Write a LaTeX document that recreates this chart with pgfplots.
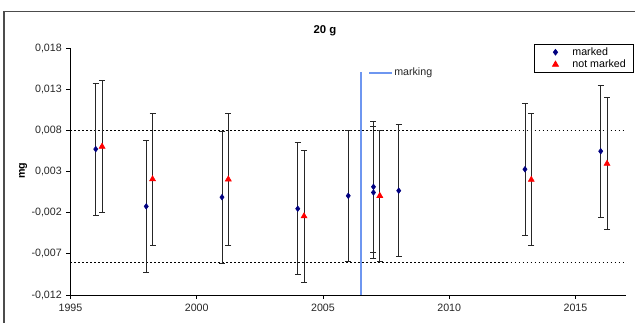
\documentclass[border=0pt]{standalone}
\usepackage{pgfplots}
\pgfplotsset{compat=1.18}
\usepackage{fontspec}
\setmainfont{Liberation Sans}

\definecolor{markblue}{RGB}{0,0,128}
\definecolor{markred}{RGB}{255,0,0}
\definecolor{linkblue}{RGB}{110,150,240}

\newcommand{\chartfont}{\fontsize{8}{9.6}\selectfont}

% legend sample: a single mark, no line
\pgfplotsset{markonly legend/.style={
  legend image code/.code={%
    \path[draw=none] (0pt,0pt) (22.9pt,0pt);
    \path[##1, draw=none] plot[only marks] coordinates {(11.2pt,0pt)};}}}

\begin{document}
\begin{tikzpicture}
\useasboundingbox (-52.875pt,-21pt) rectangle (427.125pt,221.25pt);
% outer chart frame
\draw[black!70, line width=1pt] (-49.9pt,-30pt) -- (-49.9pt,212.6pt) -- (423.4pt,212.6pt);
\begin{axis}[
  at={(0pt,0pt)}, anchor=south west,
  scale only axis,
  width=416.6pt, height=185.25pt,
  xmin=1995, xmax=2017,
  ymin=-0.012, ymax=0.018,
  scaled y ticks=false,
  axis lines=left,
  axis line style={-, black, line width=0.7pt},
  tick align=outside,
  major tick length=3pt,
  tick style={black, line width=0.6pt},
  xtick={1995,2000,2005,2010,2015},
  xticklabels={1995,2000,2005,2010,2015},
  ytick={-0.012,-0.007,-0.002,0.003,0.008,0.013,0.018},
  yticklabels={{-0,012},{-0,007},{-0,002},{0,003},{0,008},{0,013},{0,018}},
  ticklabel style={font=\chartfont, text=black!85},
  clip=false,
  legend cell align=left,
  legend style={
    at={(axis description cs:0.834,1.015)}, anchor=north west,
    font=\chartfont,
    draw=black, line width=0.6pt,
    inner xsep=4.8pt, inner ysep=1pt,
    nodes={inner sep=1pt},
    /tikz/every even column/.append style={column sep=0pt},
  },
]
% tolerance limits
\addplot[black, line width=0.7pt, dash pattern=on 1.4pt off 1.6pt, forget plot]
  coordinates {(1995,0.008) (2017,0.008)};
\addplot[black, line width=0.7pt, dash pattern=on 1.4pt off 1.6pt, forget plot]
  coordinates {(1995,-0.008) (2017,-0.008)};
% marking date
\addplot[linkblue, line width=1pt, forget plot]
  coordinates {(2006.5,-0.012) (2006.5,0.0151)};

% marked weights
\addplot[only marks, markonly legend, mark=diamond*, mark size=2.1pt,
  mark options={fill=markblue, draw=markblue},
  error bars/.cd, y dir=both, y explicit,
  error bar style={black!85, line width=0.6pt},
  error mark options={rotate=90, mark size=2.25pt, black!85, line width=0.6pt}]
  coordinates {
    (1996.0,0.00572) +- (0,0.008)
    (1998.0,-0.00124) +- (0,0.008)
    (2001.0,-0.00012) +- (0,0.008)
    (2004.0,-0.00152) +- (0,0.008)
    (2006.0,0.00005) +- (0,0.008)
    (2007.0,0.00114) +- (0,0.008)
    (2007.0,0.00045) +- (0,0.008)
    (2008.0,0.00067) +- (0,0.008)
    (2013.0,0.00327) +- (0,0.008)
    (2016.0,0.00546) +- (0,0.008)
  };
\addlegendentry{marked}

% not marked weights
\addplot[only marks, markonly legend, mark=triangle*, mark size=2.6pt,
  mark options={fill=markred, draw=markred},
  error bars/.cd, y dir=both, y explicit,
  error bar style={black!85, line width=0.6pt},
  error mark options={rotate=90, mark size=2.25pt, black!85, line width=0.6pt}]
  coordinates {
    (1996.25,0.00603) +- (0,0.008)
    (1998.25,0.00207) +- (0,0.008)
    (2001.25,0.00205) +- (0,0.008)
    (2004.25,-0.00243) +- (0,0.008)
    (2007.25,0.00005) +- (0,0.008)
    (2013.25,0.00200) +- (0,0.008)
    (2016.25,0.00395) +- (0,0.008)
  };
\addlegendentry{not marked}

% marking key
\draw[linkblue, line width=0.8pt] (axis cs:2006.84,0.01496) -- (axis cs:2007.75,0.01496)
  node[right, inner sep=1pt, font=\chartfont, text=black!85] {marking};

\node[font=\fontsize{8.5}{10}\selectfont\bfseries] at (axis description cs:0.458,1.070) {20 g};
\node[font=\chartfont\bfseries, rotate=90] at (axis description cs:-0.0855,0.502) {mg};
\end{axis}
\end{tikzpicture}
\end{document}
